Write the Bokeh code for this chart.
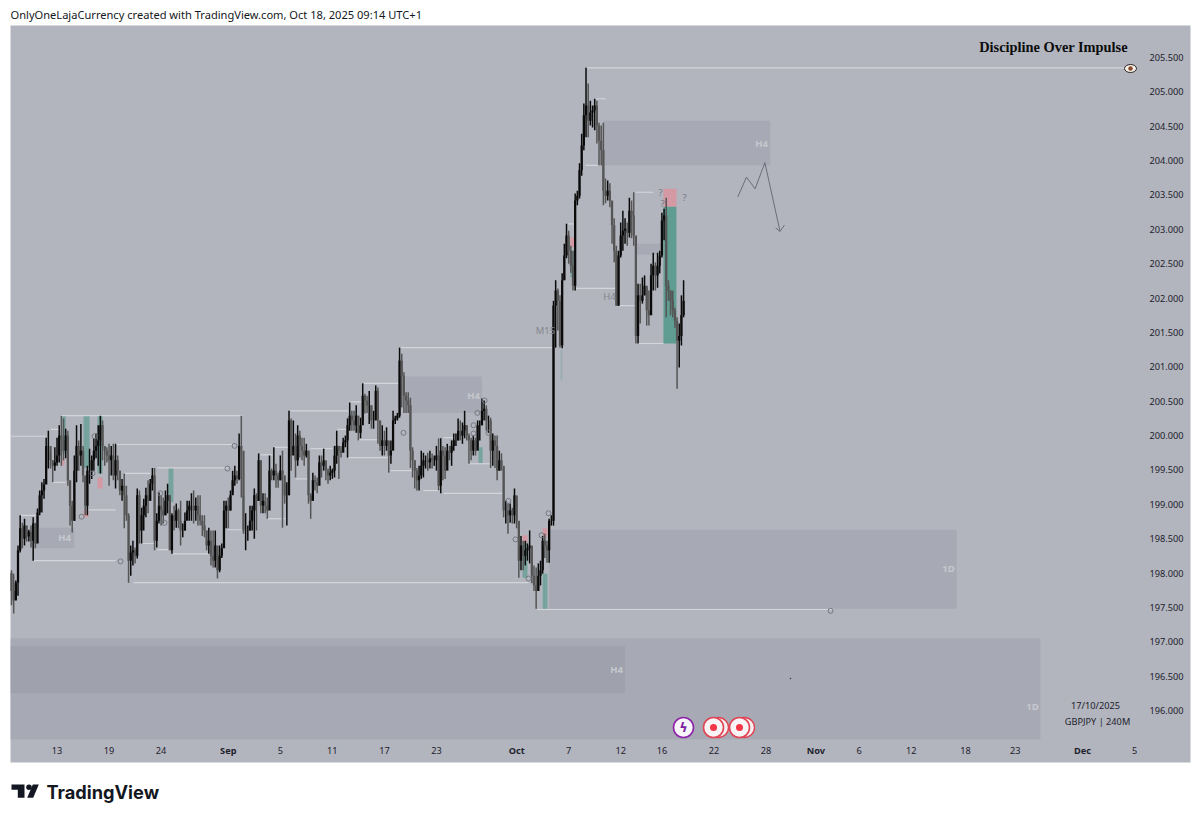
from bokeh.plotting import figure
from bokeh.models import Range1d, LinearAxis, FixedTicker
from bokeh.core.properties import value
from bokeh.embed import file_html
from bokeh.resources import INLINE

# ---- GBPJPY 4H bars (index = bar number, prices)
highs = [198.04,197.99,197.89,198.40,198.84,198.73,198.79,198.62,198.63,198.69,
 198.81,198.73,198.94,199.20,199.32,199.37,199.97,200.07,199.75,199.64,
 199.83,199.97,200.15,200.29,200.25,200.10,200.07,199.30,199.05,199.71,
 200.15,199.93,200.17,199.85,199.32,199.56,199.81,199.71,199.96,200.03,
 200.15,200.29,200.22,199.85,199.83,199.88,199.85,199.88,199.88,199.71,
 199.49,199.37,199.45,199.27,198.87,198.40,198.47,198.37,199.23,199.20,
 198.95,199.08,199.24,199.35,199.37,199.53,199.53,198.87,199.17,199.13,
 199.10,199.20,199.30,199.13,198.87,198.98,199.01,198.94,199.05,198.72,
 198.88,199.05,199.05,199.16,199.20,199.10,199.13,199.13,198.84,198.84,
 198.62,198.66,198.62,198.62,198.62,198.33,198.40,198.43,199.05,199.05,
 199.10,199.20,199.49,199.56,199.49,200.03,200.29,199.13,198.87,198.69,
 198.98,198.98,199.23,199.16,199.74,199.64,199.16,199.16,199.10,199.71,
 199.52,199.83,199.59,199.46,199.71,199.78,199.30,199.32,200.36,200.25,
 200.22,200.03,200.15,200.07,199.97,199.97,199.88,199.78,199.16,199.46,
 199.42,199.39,199.71,199.71,199.81,199.56,199.52,199.56,199.52,199.85,
 200.07,199.83,199.85,199.97,200.00,200.25,200.48,200.36,200.36,200.44,
 200.10,200.26,200.76,200.61,200.58,200.65,200.44,200.36,200.73,200.70,
 200.00,200.15,200.07,200.12,199.90,199.93,200.36,200.29,200.33,201.28,
 201.19,200.92,200.63,200.63,200.55,199.83,199.64,199.53,199.56,199.78,
 199.75,199.71,199.75,199.78,199.74,199.71,199.85,199.96,199.96,199.85,
 199.83,199.88,199.85,199.93,200.03,200.03,200.25,200.22,200.19,200.36,
 200.15,200.03,199.97,200.00,199.97,200.22,200.22,200.54,200.51,200.44,
 200.29,200.26,200.03,200.00,200.00,199.78,199.74,199.52,199.05,199.01,
 199.01,198.95,199.23,199.10,198.73,198.54,198.47,198.47,198.43,198.62,
 198.18,198.11,198.08,198.14,198.18,198.54,198.57,198.47,198.79,198.84,
 201.96,202.26,202.14,202.04,202.36,202.79,203.08,202.98,202.76,202.69,
 203.52,203.56,203.96,204.39,204.83,205.35,205.12,204.87,204.80,204.90,
 204.87,204.55,204.51,204.55,203.74,203.71,203.67,203.32,203.16,202.76,
 202.69,203.10,203.27,203.16,203.10,203.46,203.42,203.54,202.79,202.21,
 202.21,202.30,202.33,202.15,202.11,202.50,202.66,202.52,202.66,202.69,
 203.24,203.30,203.46,202.26,202.11,202.11,201.86,201.72,201.63,202.04,
 202.26]

lows = [197.53,197.41,197.63,197.67,198.30,198.36,198.40,198.46,198.46,198.37,
 198.18,198.36,198.66,198.84,198.88,199.08,199.35,199.52,199.52,199.32,
 199.49,199.56,199.61,199.56,199.64,199.67,199.27,198.69,198.59,198.76,
 199.32,199.49,199.56,199.32,198.84,198.84,199.30,199.37,199.49,199.67,
 199.56,199.45,199.64,199.56,199.61,199.27,199.42,199.35,199.23,199.35,
 199.13,199.05,198.65,198.76,197.86,197.96,198.11,198.14,198.21,198.43,
 198.43,198.62,198.81,198.87,199.05,199.20,198.33,198.37,198.72,198.69,
 198.72,198.84,198.87,198.33,198.28,198.62,198.66,198.65,198.40,198.52,
 198.62,198.84,198.76,198.76,198.72,198.76,198.69,198.69,198.54,198.52,
 198.33,198.28,198.11,198.08,198.08,197.92,198.01,198.22,198.40,198.65,
 198.65,198.91,199.17,199.27,199.30,199.35,199.10,198.57,198.33,198.47,
 198.62,198.62,198.50,198.62,199.05,198.87,198.87,198.87,198.79,199.10,
 199.35,199.35,199.24,199.24,199.35,198.66,199.01,198.69,199.16,199.49,
 199.78,199.39,199.56,199.68,199.64,199.56,199.68,199.01,198.79,199.16,
 199.20,199.16,199.39,199.39,199.49,199.35,199.30,199.35,199.37,199.39,
 199.59,199.37,199.68,199.78,199.83,199.68,200.07,200.07,200.07,200.04,
 199.93,199.96,200.22,200.32,200.33,200.17,200.10,200.10,200.25,199.88,
 199.78,199.71,199.71,199.78,199.46,199.59,199.83,200.17,200.22,200.26,
 200.41,200.33,200.33,200.33,199.53,199.39,199.23,199.20,199.20,199.37,
 199.39,199.52,199.49,199.52,199.52,199.56,199.49,199.20,199.16,199.35,
 199.37,199.56,199.64,199.56,199.78,199.85,199.93,199.93,199.88,199.96,
 199.93,199.59,199.64,199.71,199.71,199.83,199.93,200.15,200.22,200.07,
 200.04,199.53,199.56,199.53,199.35,199.49,199.49,198.81,198.72,198.57,
 198.73,198.72,198.72,198.65,197.93,198.04,198.04,198.11,198.18,198.14,
 197.85,197.74,197.48,197.74,197.82,197.99,198.22,198.15,198.15,198.69,
 198.69,201.28,201.53,201.28,201.27,202.26,202.58,202.50,202.37,202.11,
 202.11,203.35,203.45,203.78,204.15,204.34,204.34,204.51,204.48,204.44,
 204.25,203.93,203.93,203.35,203.38,203.42,203.32,202.79,202.52,201.89,
 201.89,202.59,202.69,202.79,202.76,202.88,202.87,202.76,201.34,201.34,
 201.63,201.92,202.04,201.60,201.60,202.01,202.11,202.11,202.15,202.36,
 202.59,202.84,201.72,201.96,201.75,201.72,201.57,200.68,200.99,201.31,
 201.72]

closes = [197.74,197.60,197.86,198.33,198.65,198.50,198.69,198.53,198.60,198.47,
 198.72,198.43,198.88,199.13,199.20,199.29,199.85,199.85,199.64,199.56,
 199.61,199.71,200.00,199.93,199.78,200.00,199.35,198.98,198.76,199.49,
 199.85,199.71,199.78,199.42,198.98,199.49,199.49,199.64,199.78,199.85,
 199.93,200.15,199.85,199.78,199.71,199.64,199.71,199.42,199.64,199.49,
 199.20,199.27,199.13,198.84,198.18,198.30,198.33,198.25,199.13,198.62,
 198.84,198.98,199.13,199.05,199.30,199.42,198.47,198.76,198.98,198.91,
 198.84,199.05,199.13,198.33,198.84,198.76,198.91,198.76,198.62,198.62,
 198.76,198.91,198.98,198.98,198.91,198.98,198.84,198.76,198.69,198.62,
 198.40,198.47,198.25,198.18,198.40,198.04,198.25,198.36,198.91,198.98,
 198.91,199.13,199.35,199.42,199.37,199.85,199.78,198.62,198.62,198.62,
 198.76,198.91,199.13,199.05,199.64,198.98,199.05,198.98,198.91,199.49,
 199.42,199.49,199.42,199.35,199.49,199.42,199.13,199.13,200.22,199.71,
 199.85,199.64,200.00,199.85,199.78,199.71,199.78,199.13,199.05,199.35,
 199.32,199.27,199.61,199.56,199.64,199.49,199.42,199.46,199.49,199.71,
 199.85,199.78,199.75,199.90,199.93,200.15,200.29,200.22,200.15,200.29,
 200.04,200.15,200.58,200.51,200.44,200.44,200.22,200.22,200.65,200.22,
 199.85,199.93,199.85,199.93,199.71,199.78,200.22,200.25,200.29,201.09,
 200.87,200.58,200.51,200.44,199.78,199.64,199.49,199.35,199.42,199.56,
 199.64,199.64,199.61,199.67,199.64,199.64,199.71,199.27,199.78,199.71,
 199.49,199.78,199.75,199.85,199.93,199.93,200.07,200.00,200.07,200.15,
 200.00,199.93,199.78,199.93,199.78,200.15,200.15,200.36,200.39,200.22,
 200.22,199.78,199.93,199.85,199.49,199.64,199.56,198.91,198.91,198.84,
 198.91,198.84,199.13,198.76,198.18,198.40,198.25,198.33,198.36,198.40,
 197.96,197.82,197.74,197.96,198.04,198.47,198.40,198.33,198.76,198.76,
 201.89,202.11,201.96,201.31,202.26,202.62,202.91,202.69,202.47,202.18,
 203.42,203.49,203.86,204.22,204.66,204.80,204.58,204.70,204.73,204.80,
 204.51,204.29,204.15,203.56,203.49,203.56,203.42,203.06,202.69,201.89,
 202.62,202.91,202.98,203.01,202.95,203.27,203.20,202.91,201.45,202.04,
 201.96,202.04,202.18,201.82,201.75,202.33,202.47,202.33,202.47,202.62,
 203.13,203.20,202.18,202.11,201.96,201.82,201.67,201.38,201.45,201.75,
 201.96]
opens = [198.00] + closes[:-1]      # each 4H bar opens at the previous close

# ---- Price and time axes
price_ticks = [205.5,205.0,204.5,204.0,203.5,203.0,202.5,202.0,201.5,201.0,
               200.5,200.0,199.5,199.0,198.5,198.0,197.5,197.0,196.5,196.0]
day_ticks  = [21,45,69,124,148,172,196,257,281,300,324,348,391,415,440,463,518]
day_labels = ["13","19","24","5","11","17","23","7","12","16","22","28","6","12","18","23","5"]
month_ticks  = [100,233,371,494]
month_labels = ["Sep","Oct","Nov","Dec"]

# ---- Supply / demand zones (from bar, to bar, top price, bottom price)
zone_left   = [9,182,273,288,248,-0.5,-0.5]
zone_right  = [29,217,350,301,436,474.6,283]
zone_top    = [198.66,200.86,204.58,202.79,198.63,197.05,196.94]
zone_bottom = [198.36,200.33,203.93,202.63,197.48,195.58,196.25]

# ---- Long / short position boxes
teal_left   = [23.5,33.2,39.7,72.4,215.4,235.7,245,257.8]
teal_right  = [25,36,42,74.7,217.3,238,247.2,260.1]
teal_top    = [200.29,200.29,200.29,199.53,199.83,198.47,197.99,202.69]
teal_bottom = [199.74,199.53,199.45,199.03,199.59,197.93,197.48,202.30]
pale_left, pale_right, pale_top, pale_bottom = [253.2],[254.2],[201.25],[200.80]
pink_left   = [39.7,33.2,23.5,72.9,235.7,245,257.8,300.7]
pink_right  = [42,35.5,24.4,73.8,238,247.2,259.7,306.7]
pink_top    = [199.39,198.91,199.67,198.69,198.55,198.65,202.88,203.59]
pink_bottom = [199.23,198.81,199.56,198.59,198.44,198.52,202.74,203.33]
main_left, main_right, main_top, main_bottom = [300.7],[306.7],[203.33],[201.34]

# ---- Liquidity lines (from bar, to bar, price)
line_from  = [265.7,-0.5,22.6,128.7,47,67.3,10.1,56.3,4.2,18.9,18,35.5,51.7,60.4,67.3,74.3,99.6,118.1,114.9,120.8,
              179.4,162.4,156.4,160.1,155.4,174.8,131,137.9,150.4,190,199.3,210.8,199.3,242.6,269.4,264.8,287.8,260.1,280,289.2,256.9]
line_to    = [516.2,15.7,106.5,155.4,102.4,99.6,48,238.5,12,24.9,22.6,48,64.1,66.4,74.3,92.7,107.9,126.4,120.4,128.7,
              250,178.5,161.9,169.3,173.4,185,137,148.1,155,197.9,226.9,220.9,204.8,379.2,274,271.7,296.1,278.6,288.7,300.7,259.2]
line_price = [205.35,199.99,200.29,200.36,199.87,199.53,198.18,197.86,198.84,199.32,200.09,198.92,199.45,198.43,198.34,198.28,198.63,198.79,199.72,199.83,
              201.28,200.76,200.49,199.94,199.68,199.49,199.37,199.81,200.09,199.20,199.16,199.59,199.97,197.47,204.90,203.93,203.54,202.14,201.89,201.34,203.08]

# ---- Small ring markers
ring_bar   = [32.3,38.3,37.4,50.3,102.9,99.6,70.6,68.7,180.8,214.9,213.1,213.1,220,218.2,229.2,232.5,238.5,244.5,247.7,377.8]
ring_price = [198.82,199.99,199.45,198.17,199.85,199.52,198.73,199.16,200.04,200.33,200.15,200.03,200.04,200.51,199.05,198.49,197.92,198.55,198.87,197.45]

# ---- Forecast drawing
path_bar   = [335,339,343,347.5,354.5]
path_price = [203.47,203.76,203.59,203.97,202.97]
head_bar   = [352.5,354.5,356.5]
head_price = [203.02,202.97,203.06]

# ---- Pixel helpers (for page furniture only)
def bx(px): return (px - 11) / 2.168
def pr(py): return 205.5 - (py - 57) / 68.74

p = figure(width=1200, height=819, output_backend="svg", toolbar_location=None,
           x_range=Range1d(bx(0), bx(1200)), y_range=Range1d(pr(819), pr(0)),
           x_axis_location=None, y_axis_location=None, min_border=0,
           background_fill_color="white", border_fill_color="white", outline_line_color=None)
p.grid.visible = False

PANEL = "#b2b5be"
p.quad(left=[bx(10)], right=[bx(1190)], top=[pr(25)], bottom=[pr(762)], fill_color=PANEL, line_color=None)
p.quad(left=zone_left, right=zone_right, top=zone_top, bottom=zone_bottom,
       fill_color="#8f92a0", fill_alpha=0.30, line_color=None)
p.quad(left=teal_left, right=teal_right, top=teal_top, bottom=teal_bottom,
       fill_color="#5f9c92", fill_alpha=0.72, line_color=None)
p.quad(left=pale_left, right=pale_right, top=pale_top, bottom=pale_bottom,
       fill_color="#5f9c92", fill_alpha=0.25, line_color=None)
p.quad(left=pink_left, right=pink_right, top=pink_top, bottom=pink_bottom,
       fill_color="#d9949d", fill_alpha=0.85, line_color=None)
p.quad(left=main_left, right=main_right, top=main_top, bottom=main_bottom,
       fill_color="#5f9c92", line_color=None)

p.segment(x0=line_from, x1=line_to, y0=line_price, y1=line_price, line_color="#d3d5db", line_width=1.2)
p.line(path_bar, path_price, line_color="#6a6d78", line_width=1)
p.line(head_bar, head_price, line_color="#6a6d78", line_width=1)

idx = list(range(len(closes)))
colors = ["#0a0a0a" if c >= o else "#555555" for o, c in zip(opens, closes)]
p.segment(x0=idx, x1=idx, y0=lows, y1=highs, line_color=colors, line_width=1.5)
p.vbar(x=idx, width=1.05, top=[max(o, c) for o, c in zip(opens, closes)],
       bottom=[min(o, c) for o, c in zip(opens, closes)], fill_color=colors, line_color=None)

p.scatter(ring_bar, ring_price, size=5, marker="circle", fill_color=None, line_color="#6f717a", line_width=0.9)

# axes placed inside the panel
yax = LinearAxis(fixed_location=bx(1139), ticker=FixedTicker(ticks=price_ticks),
                 major_label_overrides={t: f"{t:.3f}" for t in price_ticks})
xax = LinearAxis(fixed_location=pr(739), ticker=FixedTicker(ticks=day_ticks),
                 major_label_overrides=dict(zip(day_ticks, day_labels)))
mon = LinearAxis(fixed_location=pr(736), ticker=FixedTicker(ticks=month_ticks),
                 major_label_overrides=dict(zip(month_ticks, month_labels)))
for ax, st in ((yax, 4), (xax, 1), (mon, 1)):
    ax.axis_line_color = None
    ax.major_tick_line_color = None
    ax.minor_tick_line_color = None
    ax.major_label_standoff = st
    ax.major_label_text_color = "#1e222d"
    ax.major_label_text_font = "Noto Sans"
    ax.major_label_text_font_size = "9.2px"
mon.major_label_text_font_style = "bold"
p.add_layout(yax, "right")
p.add_layout(xax, "below")
p.add_layout(mon, "below")

def t(px, py, s, color, size, font="Noto Sans", style="normal", align="center", alpha=1.0):
    p.text(x=[bx(px)], y=[pr(py)], text=[s], text_color=color, text_font_size=f"{size}px",
           text_font=value(font), text_font_style=style, text_align=align, text_baseline="middle", text_alpha=alpha)

t(10, 14, "OnlyOneLajaCurrency created with TradingView.com, Oct 18, 2025 09:14 UTC+1", "#131722", 11.1, align="left")
t(1053, 46, "Discipline Over Impulse", "#0c0c0c", 14.4, font="Liberation Serif", style="bold")
for px_, py_, s in ((64,537,"H4"),(473,395,"H4"),(761,143,"H4"),(616,669,"H4"),(948,568,"1D"),(1032,706,"1D")):
    t(px_, py_, s, "#c6c8cf", 9.5, style="bold")
t(609, 296, "H4", "#85878f", 9.5)
t(545, 330, "M15", "#85878f", 9.5)
for px_, py_ in ((660,192),(684,197),(662,203)):
    t(px_, py_, "?", "#777a84", 9.5)
t(1095, 705, "17/10/2025", "#1e222d", 9.2)
t(1097, 721, "GBPJPY | 240M", "#1e222d", 9.2)

# eye icon, event icons, tiny dot
p.ellipse(x=[bx(1130)], y=[pr(68)], width=12, height=8, width_units="screen", height_units="screen",
          fill_color="#f4f0ea", line_color="#2b2320", line_width=1)
p.scatter([bx(1130)], [pr(68)], size=4.5, marker="circle", fill_color="#8a4a26", line_color=None)
p.scatter([bx(790)], [pr(678)], size=1.5, marker="circle", fill_color="#333333", line_color=None)
p.scatter([bx(683)], [pr(727)], size=20, marker="circle", fill_color="#f8f6fb", line_color="#8e24aa", line_width=1.6)
t(683, 727, "\u03df", "#7b1fa2", 13, font="DejaVu Sans", style="bold")
for cx in (718, 744):
    p.scatter([bx(cx)], [pr(727)], size=20, marker="circle", fill_color="#f6eef0", line_color="#e04555", line_width=1.4)
for cx in (713, 739):
    p.scatter([bx(cx)], [pr(727)], size=20, marker="circle", fill_color="#f8f3f4", line_color="#e04555", line_width=1.6)
    p.scatter([bx(cx)], [pr(727)], size=7, marker="circle", fill_color="#f23645", line_color=None)

# TradingView logo
p.patches(xs=[[bx(v) for v in (11,24,24,17.3,17.3,11)], [bx(v) for v in (32.3,38.3,32.7,26.7)]],
          ys=[[pr(v) for v in (784,784,797.3,797.3,789.3,789.3)], [pr(v) for v in (784,784,797.3,797.3)]],
          fill_color="#131722", line_color=None)
p.scatter([bx(28.5)], [pr(786.7)], size=5.6, marker="circle", fill_color="#131722", line_color=None)
t(46, 791, "TradingView", "#131722", 18.2, font="Inter", style="bold", align="left")

open("out.html", "w").write(file_html(p, INLINE))
